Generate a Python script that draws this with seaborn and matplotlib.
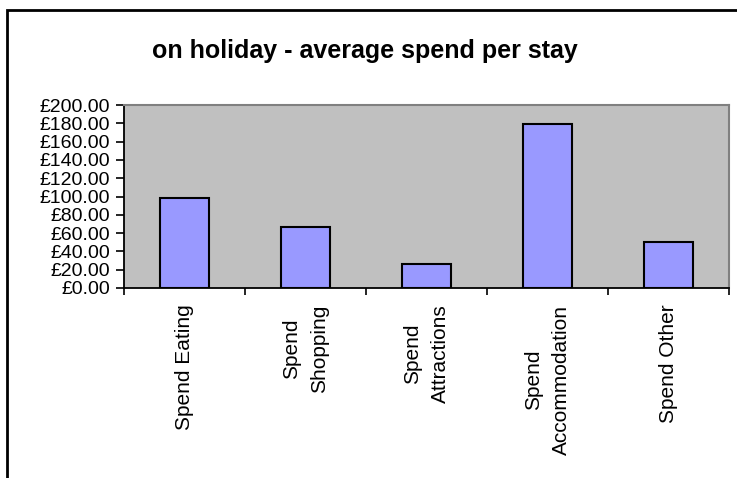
import numpy as np
import pandas as pd
import matplotlib
matplotlib.use("Agg")
import matplotlib.pyplot as plt
from matplotlib.patches import Rectangle
from matplotlib.ticker import FuncFormatter, FixedLocator
import seaborn as sns

# data
categories = ["Spend Eating", "Spend Shopping", "Spend Attractions", "Spend Accommodation", "Spend Other"]
tick_labels = ["Spend Eating", "Spend\nShopping", "Spend\nAttractions", "Spend\nAccommodation", "Spend Other"]
spend = [98, 67, 26, 179, 50]
y_ticks = list(range(0, 201, 20))

sns.set_style("white")
plt.rcParams["font.family"] = ["Liberation Sans", "DejaVu Sans"]
plt.rcParams["text.color"] = "black"
plt.rcParams["xtick.color"] = "black"
plt.rcParams["ytick.color"] = "black"

df = pd.DataFrame({"category": categories, "spend": spend})

fig = plt.figure(figsize=(7.37, 4.78), dpi=100)
ax = fig.add_axes([124 / 737, 1 - 288 / 478, (729 - 124) / 737, (288 - 105) / 478])

sns.barplot(data=df, x="category", y="spend", color="#9999FF", saturation=1,
            edgecolor="black", linewidth=1.5, width=0.41, ax=ax)

ax.set_facecolor("#C0C0C0")
ax.set_xlim(-0.5, len(categories) - 0.5)
ax.set_ylim(0, 200)
ax.set_xlabel("")
ax.set_ylabel("")

# labels under the categories, tick marks between them
ax.set_xticks(range(len(categories)))
ax.set_xticklabels(tick_labels, rotation=90, fontsize=15, multialignment="center",
                   linespacing=1.6, color="black")
ax.xaxis.set_minor_locator(FixedLocator(np.arange(-0.5, len(categories), 1.0)))
ax.tick_params(axis="x", which="major", bottom=True, length=0, pad=12)
ax.tick_params(axis="x", which="minor", bottom=True, length=5, width=1.2,
               color="black", direction="out")

ax.set_yticks(y_ticks)
ax.yaxis.set_major_formatter(FuncFormatter(lambda v, p: "£{:.2f}".format(v)))
ax.tick_params(axis="y", left=True, length=6, width=1.2, color="black", direction="out",
               pad=4, labelsize=14, labelcolor="black")

for side in ["left", "bottom"]:
    ax.spines[side].set_color("black")
    ax.spines[side].set_linewidth(1.3)
for side in ["top", "right"]:
    ax.spines[side].set_visible(True)
    ax.spines[side].set_color("#808080")
    ax.spines[side].set_linewidth(1.5)

# chart title and outer chart border
fig.text(365 / 737, 1 - 58 / 478, "on holiday - average spend per stay",
         ha="center", va="baseline", fontsize=18, fontweight="bold", color="black")
fig.patches.append(Rectangle((6.5 / 737, -0.1), 1.2, 0.1 + (478 - 10.5) / 478,
                             transform=fig.transFigure, fill=False,
                             edgecolor="black", linewidth=2, clip_on=False))

fig.savefig("out.png", dpi=100)
